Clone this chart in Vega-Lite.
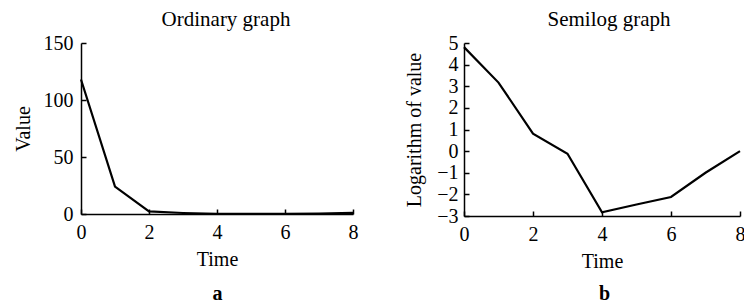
{
  "$schema": "https://vega.github.io/schema/vega-lite/v6.json",
  "padding": {"left": 13, "top": 9, "right": 0, "bottom": 0},
  "background": "white",
  "data": {
    "values": [
      {"time": 0, "value": 118, "logValue": 4.81},
      {"time": 1, "value": 24, "logValue": 3.17},
      {"time": 2, "value": 2.3, "logValue": 0.81},
      {"time": 3, "value": 0.9, "logValue": -0.12},
      {"time": 4, "value": 0.06, "logValue": -2.83},
      {"time": 5, "value": 0.08, "logValue": -2.47},
      {"time": 6, "value": 0.12, "logValue": -2.12},
      {"time": 7, "value": 0.37, "logValue": -1.0},
      {"time": 8, "value": 1.0, "logValue": 0.0}
    ]
  },
  "config": {
    "font": "Liberation Serif",
    "view": {"stroke": null},
    "title": {"font": "Liberation Serif", "fontSize": 21, "fontWeight": "normal", "color": "black", "anchor": "middle", "offset": 3},
    "axis": {
      "grid": false,
      "domainColor": "black",
      "domainWidth": 1.5,
      "tickColor": "black",
      "tickWidth": 1.5,
      "tickSize": -5,
      "labelFont": "Liberation Serif",
      "labelFontSize": 20,
      "labelColor": "black",
      "labelFlush": false,
      "labelOverlap": false,
      "titleFont": "Liberation Serif",
      "titleFontSize": 20,
      "titleFontWeight": "normal",
      "titleColor": "black"
    },
    "axisY": {"labelOverlap": false}
  },
  "hconcat": [
    {
      "width": 272,
      "height": 171,
      "title": {"text": "Ordinary graph", "dx": 9},
      "layer": [
        {
          "mark": {"type": "line", "color": "black", "strokeWidth": 2.2},
          "encoding": {
            "x": {"field": "time", "type": "quantitative", "scale": {"domain": [0, 8], "nice": false},
                  "axis": {"title": "Time", "values": [0, 2, 4, 6, 8], "labelPadding": 13, "titlePadding": 7, "labelOverlap": false}},
            "y": {"field": "value", "type": "quantitative", "scale": {"domain": [0, 150], "nice": false},
                  "axis": {"title": "Value", "values": [0, 50, 100, 150], "labelPadding": 13, "titlePadding": 10, "labelOverlap": false}}
          }
        },
        {
          "mark": {"type": "rule", "opacity": 0},
          "encoding": {
            "x": {"field": "time", "type": "quantitative", "scale": {"domain": [0, 8], "nice": false},
                  "axis": {"orient": "bottom", "title": "a", "titleFontWeight": "bold", "labels": false, "ticks": false, "domain": false, "titlePadding": 69}}
          }
        }
      ],
      "resolve": {"axis": {"x": "independent"}}
    },
    {
      "width": 276,
      "height": 173,
      "title": {"text": "Semilog graph", "dx": 7},
      "layer": [
        {
          "mark": {"type": "line", "color": "black", "strokeWidth": 2.2},
          "encoding": {
            "x": {"field": "time", "type": "quantitative", "scale": {"domain": [0, 8], "nice": false},
                  "axis": {"title": "Time", "values": [0, 2, 4, 6, 8], "labelPadding": 13, "titlePadding": 7, "labelOverlap": false}},
            "y": {"field": "logValue", "type": "quantitative", "scale": {"domain": [-3, 5], "nice": false},
                  "axis": {"title": "Logarithm of value", "values": [-3, -2, -1, 0, 1, 2, 3, 4, 5], "labelPadding": 11, "titlePadding": 12, "labelOverlap": false, "labelSeparation": 0}}
          }
        },
        {
          "mark": {"type": "rule", "opacity": 0},
          "encoding": {
            "x": {"field": "time", "type": "quantitative", "scale": {"domain": [0, 8], "nice": false},
                  "axis": {"orient": "bottom", "title": "b", "titleFontWeight": "bold", "labels": false, "ticks": false, "domain": false, "titlePadding": 67, "titleX": 140}}
          }
        }
      ],
      "resolve": {"axis": {"x": "independent"}}
    }
  ],
  "spacing": 111,
  "bounds": "flush"
}
